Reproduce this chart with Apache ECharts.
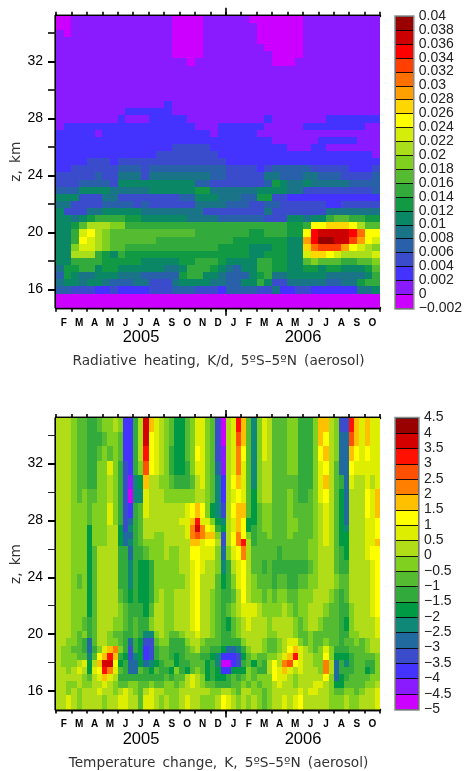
<!DOCTYPE html>
<html><head><meta charset="utf-8">
<script src="https://cdn.jsdelivr.net/npm/echarts@6/dist/echarts.min.js"></script>
<style>html,body{margin:0;padding:0;background:#fff}#c{width:465px;height:771px}</style></head>
<body><div id="c"></div>
<script>
const monthLabels=['F','M','A','M','J','J','A','S','O','N','D','J','F','M','A','M','J','J','A','S','O'];
const zMajorTicks=[16,20,24,28,32];
const zMinorTicks=[18,22,26,30,34];
const heatingEdges=[-0.002,0,0.002,0.004,0.006,0.008,0.01,0.012,0.014,0.016,0.018,0.02,0.022,0.024,0.026,0.028,0.03,0.032,0.034,0.036,0.038,0.04];
const heatingColors=['#cc00ff','#8a1aff','#4433ff','#3a4ccc','#2860aa','#1a7488','#0a8866','#119944','#33aa3c','#55bb30','#80d020','#aadd1a','#d4ee0a','#ffff00','#ffd700','#ffa000','#ff7000','#ff4000','#ff0000','#cc0000','#990000'];
const temperatureEdges=[-5,-4.5,-4,-3.5,-3,-2.5,-2,-1.5,-1,-0.5,0,0.5,1,1.5,2,2.5,3,3.5,4,4.5];
const temperatureColors=['#cc00ff','#8a1aff','#4433ff','#3a4ccc','#206aa0','#108878','#009944','#33aa3c','#55bb30','#80d020','#b0dd18','#ddee00','#ffff00','#ffc000','#ff8000','#ff5000','#ff1000','#d40000','#990000'];
// radiative heating, 10^-3 K/d; half-month columns, rows from the top down
const heatingZEdges=[35.2,34.7,34.2,33.7,33.2,32.7,32.2,31.7,31.2,30.7,30.2,29.7,29.2,28.7,28.2,27.7,27.2,26.7,26.2,25.7,25.2,24.7,24.2,23.7,23.2,22.7,22.2,21.7,21.2,20.7,20.2,19.7,19.2,18.7,18.2,17.7,17.2,16.7,16.2,15.7,15.2,14.7];
const heatingRows=[
[-1,-1, 1,1, 1,1, 1,1, 1,1, 1,1, 1,1, 1,-1, -1,-1, -1,1, 1,1, 1,1, 1,-1, -1,-1, -1,-1, -1,-1, 1,1, 1,1, 1,1, 1,1, 1,1],
[-1,-1, 1,1, 1,1, 1,1, 1,1, 1,1, 1,1, 1,-1, -1,-1, -1,1, 1,1, 1,1, 1,1, -1,-1, -1,-1, -1,-1, 1,1, 1,1, 1,1, 1,1, 1,1],
[1,-1, 1,1, 1,1, 1,1, 1,1, 1,1, 1,1, 1,-1, -1,-1, -1,1, 1,1, 1,1, 1,1, -1,-1, -1,-1, -1,-1, 1,1, 1,1, 1,1, 1,1, 1,1],
[1,1, 1,1, 1,1, 1,1, 1,1, 1,1, 1,1, 1,-1, -1,-1, -1,1, 1,1, 1,1, 1,1, -1,-1, -1,-1, -1,-1, 1,1, 1,1, 1,1, 1,1, 1,1],
[1,1, 1,1, 1,1, 1,1, 1,1, 1,1, 1,1, 1,-1, -1,-1, -1,1, 1,1, 1,1, 1,1, 1,-1, -1,-1, -1,-1, 1,1, 1,1, 1,1, 1,1, 1,1],
[1,1, 1,1, 1,1, 1,1, 1,1, 1,1, 1,1, 1,-1, -1,-1, -1,1, 1,1, 1,1, 1,1, 1,1, -1,-1, -1,-1, 1,1, 1,1, 1,1, 1,1, 1,1],
[1,1, 1,1, 1,1, 1,1, 1,1, 1,1, 1,1, 1,1, 1,-1, 1,1, 1,1, 1,1, 1,1, 1,1, -1,-1, -1,1, 1,1, 1,1, 1,1, 1,1, 1,1],
[1,1, 1,1, 1,1, 1,1, 1,1, 1,1, 1,1, 1,1, 1,1, 1,1, 1,1, 1,1, 1,1, 1,1, 1,1, 1,1, 1,1, 1,1, 1,1, 1,1, 1,1],
[1,1, 1,1, 1,1, 1,1, 1,1, 1,1, 1,1, 1,1, 1,1, 1,1, 1,1, 1,1, 1,1, 1,1, 1,1, 1,1, 1,1, 1,1, 1,1, 1,1, 1,1],
[1,1, 1,1, 1,1, 1,1, 1,1, 1,1, 1,1, 1,1, 1,1, 1,1, 1,1, 1,1, 1,1, 1,1, 1,1, 1,1, 1,1, 1,1, 1,1, 1,1, 1,1],
[1,1, 1,1, 1,1, 1,1, 1,1, 1,1, 1,1, 1,1, 1,1, 1,1, 1,1, 1,1, 1,1, 1,1, 1,1, 1,1, 1,1, 1,1, 1,1, 1,1, 1,1],
[1,1, 1,1, 1,1, 1,1, 1,1, 1,1, 1,1, 1,1, 1,1, 1,1, 1,1, 1,1, 1,1, 1,1, 1,1, 1,1, 1,1, 1,1, 1,1, 1,1, 1,1],
[1,1, 1,1, 1,1, 1,1, 1,1, 1,1, 1,1, 3,1, 1,1, 1,1, 1,1, 1,1, 1,1, 1,1, 1,1, 1,1, 1,1, 1,1, 1,1, 1,1, 1,1],
[1,1, 1,1, 1,1, 1,1, 1,3, 3,3, 3,3, 3,1, 1,1, 1,1, 1,1, 1,1, 1,1, 1,1, 1,1, 1,1, 1,1, 1,1, 1,1, 1,1, 1,1],
[1,1, 1,1, 1,1, 1,1, 3,1, 1,1, 3,3, 3,3, 3,1, 1,1, 1,1, 1,1, 1,1, 1,3, 1,1, 1,1, 1,1, 1,3, 3,3, 3,3, 3,3, 3,3],
[1,3, 3,3, 3,3, 3,3, 3,3, 3,3, 3,3, 3,3, 3,3, 1,1, 1,3, 3,3, 3,3, 3,1, 1,1, 1,1, 3,3, 3,3, 3,3, 3,3, 1,1],
[3,3, 3,3, 3,1, 3,3, 3,3, 3,3, 3,3, 3,3, 3,3, 3,3, 1,3, 3,3, 3,3, 1,1, 1,1, 1,1, 1,1, 1,1, 1,1, 1,1, 1,1],
[3,3, 3,3, 3,3, 3,3, 3,3, 3,3, 3,3, 3,3, 3,3, 3,3, 3,3, 3,3, 3,3, 3,3, 1,1, 1,1, 1,1, 3,3, 3,3, 3,1, 1,1],
[3,3, 3,3, 3,3, 3,3, 3,3, 3,3, 3,3, 3,5, 5,5, 5,5, 3,3, 3,3, 3,3, 3,3, 3,3, 1,1, 1,3, 3,1, 1,1, 1,1, 1,1],
[3,3, 3,3, 3,3, 3,3, 3,3, 3,3, 3,5, 5,5, 5,5, 5,5, 5,3, 3,3, 3,3, 3,3, 3,3, 3,3, 3,3, 3,3, 3,3, 3,3, 3,1],
[3,3, 3,3, 5,5, 5,3, 5,5, 5,5, 5,5, 5,5, 5,5, 5,5, 5,5, 3,3, 3,3, 3,3, 3,3, 3,3, 3,3, 3,3, 3,3, 3,3, 3,3],
[3,3, 5,5, 5,5, 5,5, 7,7, 7,5, 7,7, 7,7, 7,7, 7,7, 7,7, 5,5, 5,5, 3,5, 7,7, 7,7, 7,5, 5,5, 5,5, 3,3, 3,5],
[5,5, 5,5, 5,7, 5,5, 9,9, 9,5, 9,9, 9,9, 9,9, 9,9, 7,7, 5,5, 5,5, 5,9, 9,7, 7,7, 9,9, 7,7, 7,5, 5,5, 5,7],
[5,5, 5,7, 7,7, 7,5, 11,11, 11,11, 11,11, 11,11, 11,11, 7,7, 5,5, 5,5, 5,5, 5,7, 13,11, 9,9, 11,9, 9,9, 9,9, 7,7, 7,7],
[7,7, 7,11, 11,11, 11,9, 9,9, 9,9, 11,11, 11,11, 11,11, 13,13, 9,9, 9,9, 9,9, 11,11, 11,11, 9,9, 5,5, 5,5, 5,5, 5,5, 5,7],
[11,11, 11,5, 5,5, 9,9, 5,5, 5,5, 5,5, 5,5, 7,7, 11,11, 11,9, 9,9, 7,7, 13,13, 5,5, 3,3, 3,3, 3,3, 3,3, 3,3, 3,3],
[9,9, 5,5, 5,5, 7,7, 7,7, 5,7, 5,5, 5,5, 5,5, 9,9, 9,9, 7,7, 7,5, 5,7, 7,5, 5,5, 5,5, 5,3, 3,5, 5,5, 5,5],
[11,5, 5,5, 9,9, 11,11, 11,11, 11,9, 9,9, 9,9, 9,9, 9,5, 5,5, 5,5, 5,5, 5,9, 5,5, 5,5, 5,5, 5,9, 9,9, 9,9, 9,9],
[11,11, 9,11, 13,15, 15,15, 15,13, 13,11, 11,11, 11,11, 11,9, 9,9, 9,7, 7,7, 7,7, 7,5, 5,5, 11,11, 9,11, 11,15, 17,17, 15,15, 13,13],
[11,11, 13,17, 21,21, 21,19, 19,15, 15,15, 15,15, 15,15, 15,15, 15,15, 15,15, 15,15, 15,15, 15,15, 15,15, 13,13, 15,25, 25,27, 27,27, 25,21, 17,17],
[11,11, 15,23, 25,21, 19,17, 17,17, 17,17, 17,17, 17,17, 17,17, 15,15, 15,15, 15,15, 15,13, 13,15, 15,15, 13,13, 25,35, 37,37, 37,37, 35,31, 25,25],
[11,11, 15,25, 23,21, 19,17, 17,17, 17,17, 17,15, 15,15, 15,15, 15,15, 15,15, 15,13, 13,13, 13,13, 13,13, 11,11, 29,35, 39,39, 37,37, 33,29, 25,23],
[11,11, 19,23, 23,21, 19,17, 17,15, 15,15, 15,15, 15,15, 15,15, 15,15, 15,13, 13,13, 13,11, 11,11, 13,13, 11,11, 27,31, 33,33, 33,29, 25,23, 21,19],
[11,11, 21,21, 21,15, 13,11, 15,13, 13,13, 13,13, 13,13, 13,13, 13,13, 13,13, 13,13, 13,11, 11,13, 13,13, 11,11, 23,27, 27,25, 23,21, 21,21, 21,23],
[11,11, 15,15, 15,15, 13,13, 13,13, 13,11, 11,11, 11,11, 13,13, 15,15, 15,13, 11,11, 11,11, 15,15, 13,13, 11,11, 17,19, 17,17, 17,15, 15,17, 17,19],
[9,13, 13,15, 15,11, 13,13, 11,11, 11,11, 11,11, 9,9, 11,15, 15,15, 13,11, 9,7, 11,11, 15,15, 13,13, 11,11, 13,13, 11,13, 13,11, 11,11, 13,17],
[7,13, 11,9, 9,11, 11,11, 9,9, 9,7, 7,7, 7,7, 13,15, 15,11, 11,9, 7,7, 7,11, 13,15, 9,9, 11,11, 11,11, 11,9, 9,9, 9,9, 11,15],
[9,11, 11,9, 11,11, 9,7, 7,7, 9,9, 5,5, 5,9, 11,11, 11,11, 9,9, 7,7, 11,11, 15,11, 5,5, 9,9, 9,9, 9,7, 7,9, 9,13, 15,15],
[7,7, 5,5, 5,3, 3,5, 3,3, 3,3, 5,5, 5,7, 7,7, 5,5, 5,3, 7,7, 7,7, 5,5, 9,3, 3,5, 5,3, 3,3, 3,3, 3,9, 9,11],
[-1,-1, -1,-1, -1,-1, -1,-1, -1,-1, -1,-1, -1,-1, -1,-1, -1,-1, -1,-1, -1,-1, -1,-1, -1,-1, -1,-1, -1,-1, -1,-1, -1,-1, -1,-1, -1,-1, -1,-1, -1,-1],
[-1,-1, -1,-1, -1,-1, -1,-1, -1,-1, -1,-1, -1,-1, -1,-1, -1,-1, -1,-1, -1,-1, -1,-1, -1,-1, -1,-1, -1,-1, -1,-1, -1,-1, -1,-1, -1,-1, -1,-1, -1,-1]
];
// temperature change, K; three columns per month, rows from the top down
const temperatureZEdges=[35.2,34.2,33.2,32.2,31.2,30.2,29.2,28.2,27.7,27.2,26.7,26.2,25.2,24.2,23.2,22.2,21.2,20.2,19.7,19.2,18.7,18.2,17.7,17.2,16.7,16.2,15.7,14.7];
const temperatureRows=[
[.2,.2,.2, -.2,-.8,-.8, -1.2,-1.2,-.8, -.2,-.2,.2, -.2,-3.8,-3.8, -1.2,.2,3.8, 1.8,.8,.2, -.2,-.8,-1.8, -1.8,-.8,-.2, .8,.8,-.2, -.8,-3.2,-4.8, .2,.8,3.2, 1.8,-.8,-2.2, -.2,.8,.2, -.8,-.8,-.8, -.2,-.2,-1.2, -1.2,-1.2,-.2, 1.8,1.8,.2, -.2,-3.2,-3.2, 3.2,1.8,.8, 1.8,.8,.8],
[.2,.2,.2, -.2,-.8,-.8, -1.2,-1.2,-1.2, -.8,-.2,-.2, -.8,-3.8,-3.8, -1.2,.2,3.8, 1.2,.8,.2, -.2,-.8,-1.8, -1.8,-.8,-.2, .8,.8,-.2, -.8,-3.2,-4.8, .2,.8,2.8, 1.8,-.8,-2.2, -.2,.8,.2, -.8,-.8,-.8, -.2,-.2,-1.2, -1.2,-1.2,-.2, 1.8,1.2,.2, -.2,-2.8,-2.8, 2.8,1.8,.8, 1.8,.8,.8],
[.2,.2,.2, -.2,-.8,-.8, -1.2,-1.2,-.8, -.2,-.8,-.2, -.8,-3.8,-3.8, -1.2,.2,3.2, 1.2,.8,.2, -.2,-1.2,-1.8, -1.8,-.8,-.2, 1.2,.8,-.2, -.8,-3.2,-4.2, .2,.8,2.2, 1.2,-.8,-2.2, -.2,.8,.2, -.8,-.8,-.8, -.2,-.2,-1.2, -1.2,-1.2,-.2, 1.2,1.8,.2, -.2,-2.8,-2.8, 1.8,1.2,.8, 1.2,.8,.8],
[.2,.2,.2, -.2,-.8,-.8, -1.2,-1.2,-.2, -.2,.8,-.2, -1.2,-3.2,-3.8, -1.2,-.2,2.8, 1.2,.8,.2, -.2,-1.2,-1.8, -1.8,-1.2,-.2, .8,.8,-.2, -.8,-2.8,-4.2, .2,.8,2.2, .8,-.8,-2.2, -.2,.2,.2, -.8,-.8,-.8, -.2,-.2,-1.2, -1.2,-1.2,-.2, .8,1.2,.2, -.8,-2.8,-2.8, 1.2,.8,.8, .8,.8,.8],
[.2,.2,.2, -.2,-.8,-.8, -1.2,-1.2,-.2, -.2,.2,-.2, -1.2,-3.2,-4.2, -2.2,-1.8,1.8, .2,.2,-.2, -.2,-.8,-1.2, -1.2,-1.2,-.8, .2,.8,-.2, -.8,-2.2,-3.8, .2,1.2,1.8, .8,-.8,-2.2, -.2,.2,.2, -.8,-.8,-.8, -.8,-.8,-1.2, -1.2,-1.2,-.2, .8,1.8,.2, -.8,-1.2,-2.8, .8,.2,.2, .8,.2,.8],
[.2,.2,.2, -.2,-.8,-.2, -.8,-.8,-.2, -.2,.2,-.2, -1.2,-3.2,-4.8, -2.2,-2.2,.8, .2,.2,.2, -.2,-.2,-.2, -.2,-.2,-.2, .2,.2,-.2, -.8,-2.2,-3.8, .2,.8,1.2, .8,-.8,-1.8, -.2,.2,.2, -.8,-.8,-.8, -.2,-.8,-1.2, -1.2,-.8,-.2, .8,1.2,.2, -.8,-1.8,-2.8, .2,.2,.2, 1.2,.8,1.8],
[.2,.2,.2, -.2,-.2,-.2, -.8,-.2,-.2, -.2,.8,-.2, -1.2,-3.2,-3.8, -1.2,-.8,.8, .2,.2,.2, .2,.2,.2, .2,.8,1.2, 1.8,1.2,-.2, -1.8,-2.2,-3.2, .2,1.2,1.8, 1.8,-.8,-1.8, -.8,-.2,-.2, -.8,-.8,-.8, -.2,-.8,-.8, -.8,-.8,-.2, .2,.8,.2, -.8,-1.8,-2.8, .2,.2,.2, 1.2,.8,1.8],
[.2,.2,.2, -.2,-.2,-.2, -.8,-.2,-.2, -.2,.8,-.2, -1.2,-3.2,-2.8, -1.2,-.8,.2, .2,.2,.2, .2,.2,.2, .8,.8,1.8, 3.2,.8,.8, -.2,-1.8,-2.2, .2,.8,1.8, 1.2,-1.8,-1.8, -.8,-.2,-.2, -.8,-.8,-.8, -.2,-.2,-.8, -.8,-.8,-.2, .2,.8,.2, -.8,-1.8,-2.8, .2,.2,.2, .8,.8,1.2],
[.2,.2,.2, -.2,-.2,-.2, -1.8,-.2,-.2, -.2,.2,.2, -1.8,-3.2,-2.2, -1.2,-.8,.2, .2,.2,.2, .2,.2,.2, .2,.8,2.2, 3.8,2.2,1.2, .8,-1.2,-1.8, .2,.8,1.8, 1.2,-1.8,-1.2, -.8,-.2,-.2, -.8,-.8,-.8, -.2,-.2,-.8, -.8,-.8,-.2, .2,.8,.2, -.8,-1.8,-2.2, .2,.2,.2, .8,.8,1.2],
[.2,.2,.2, -.2,-.2,-.2, -1.8,-.2,-.2, -.2,.2,.2, -1.8,-2.8,-2.8, -1.2,-.8,.2, .2,-.2,-.2, .2,.2,.2, .2,.8,2.2, 2.8,2.2,1.8, 1.8,-.2,-3.2, .2,1.2,2.2, 1.2,-.2,-1.2, -.8,-.8,-.2, -.8,-.8,-.8, -.2,-.8,-.8, -.8,-.8,-.2, .2,.8,.2, -.8,-1.8,-1.8, .2,.2,.2, .8,.8,1.2],
[.2,.2,.2, -.2,-.2,-.2, -1.8,-.2,-.2, -.2,.2,.2, -1.8,-2.8,-2.2, -1.2,-.8,-.2, -.2,-.2,-.2, .2,.2,.2, .2,.2,1.8, 1.8,.8,1.2, 1.2,.2,-3.2, .2,1.2,2.2, 3.2,.2,-1.2, -.8,-.8,-.8, -.8,-.8,-.8, -.8,-.8,-.8, -.8,-.2,-.2, .2,.8,.2, -.8,-1.8,-1.8, .2,.2,.2, .8,.8,1.8],
[.2,.2,.2, -.2,-.2,-.2, -1.8,-.8,.2, .2,.2,.2, -1.2,-1.2,-2.8, -1.2,-1.2,-.8, -.2,-.2,-.2, .2,-.2,-.2, .2,.2,1.2, 1.2,.8,.8, .8,-.2,-2.8, -.2,.8,1.2, 2.2,.2,-.8, -.8,-.8,-.8, -.8,-1.2,-.8, -.8,-.8,-.8, -.8,-.2,-.2, .2,.2,.2, -.8,-1.2,-1.8, .2,.2,.2, .8,1.2,1.2],
[.2,.2,.2, -.2,-.2,-.2, -1.8,-.8,.2, .2,.2,.2, -1.2,-1.2,-2.2, -1.2,-1.8,-1.8, -1.2,-.2,-.2, -.2,-.2,-.2, .2,.2,.8, 1.2,.8,.2, .2,-.2,-2.2, -1.2,.2,.8, 1.2,.2,-.8, -.8,-1.2,-.8, -1.2,-1.2,-1.2, -1.2,-1.2,-1.2, -1.2,-.8,-.2, .2,.2,.2, -.8,-1.2,-1.2, .2,.2,.2, .2,.8,1.2],
[.2,.2,.2, -.2,-.8,-.2, -1.8,-.8,.2, .2,.2,.2, -1.2,-1.2,-2.2, -1.2,-1.8,-1.8, -1.2,-.2,-.2, -.2,-.2,-.2, -.2,.2,.8, 1.2,.2,.2, .2,-.8,-1.8, -1.2,-.2,.8, 1.2,.2,-.2, -.8,-.8,-.8, -1.2,-.8,-.8, -1.2,-1.2,-.8, -.8,-.2,-.2, .2,.2,.2, -.2,-.8,-.8, .2,.2,.2, .2,.8,1.2],
[.2,.2,.2, -.2,-.2,-.2, -1.8,-.8,.2, .2,.2,.2, -.8,-1.2,-1.8, -1.2,-1.8,-1.8, -1.2,-.2,.2, -.2,-.2,.2, .2,.2,.8, 1.2,.2,.2, -.2,-.8,-1.2, -1.2,-.8,.2, 1.2,.2,-.2, -.2,-.8,-.2, -.8,-.2,-.2, -.8,-.8,-.2, -.2,-.2,.2, .2,.2,-.2, -.8,-1.2,-.8, .2,.2,.2, .2,.8,1.2],
[.2,.2,.2, -.2,-.2,-.2, -1.8,-.8,.2, .2,.2,.2, -.2,-.8,-1.2, -1.2,-1.2,-1.8, -.8,.2,.2, -.2,-.2,.2, .2,.2,.8, 1.2,.2,.2, -.2,-.8,-1.2, -.8,-.2,.2, .8,.8,.8, .2,-.2,-.2, -.2,-.2,.2, -.2,-.8,-.2, -.2,.2,.2, .2,-.2,-.8, -.8,-1.2,-1.2, -.2,.2,.2, .2,.8,1.2],
[.2,.2,.2, -.2,-.2,-.8, -1.2,-.8,.2, .2,.2,-.2, -.2,-.8,-1.2, -.8,-1.2,-1.2, -.2,.2,.2, -.2,-.2,.2, .2,.2,.8, 1.2,.2,.2, -.2,-.8,-1.2, -1.8,-.8,-.2, .2,.8,.2, .2,.2,-.2, .2,.2,.2, .2,-.2,-.8, -.2,.2,.2, -.2,-.8,-.8, -.8,-1.2,-1.8, -.2,.2,.2, .2,.2,.8],
[.2,.2,.2, -.2,-.8,-.2, -1.2,-.8,.2, .2,-.2,-.8, -.8,-1.2,-1.2, -.8,-1.2,-2.2, -2.2,-.2,.2, -.2,-.8,-.8, -.2,.2,.2, .8,.2,.2, -.2,-.8,-1.2, -1.2,-.8,-.2, .2,.2,.2, .2,.2,-.2, -.2,.2,.2, .2,-.2,-.8, -.8,-.2,-.8, -.8,-.8,-.8, -.8,-1.2,-1.2, -.2,-.2,.2, .2,.2,.8],
[.2,.2,-.2, -.2,-.8,-1.2, -2.8,-.8,.2, .2,-.2,-.2, -.8,-1.2,-2.8, -1.2,-1.8,-3.2, -3.2,-.8,-.2, -.2,-1.2,-1.2, -1.2,-.2,.2, .2,-.2,-.8, -.8,-.8,-1.2, -1.2,-1.2,-1.2, -.2,.2,.2, .2,-.2,-.8, -.8,-.2,.2, .8,.8,-.2, -.8,-.2,-.8, -.8,-.2,-.8, -.8,-1.2,-.8, -.8,-.2,-.8, -.2,.2,.2],
[.2,-.2,-.2, -.8,-.8,-1.2, -2.8,-1.2,-.2, .8,1.8,2.2, -.2,-1.2,-3.2, -1.2,-1.8,-3.8, -3.2,-1.2,-.8, -.8,-1.2,-1.2, -1.2,-.8,-.2, .2,-.8,-.8, -1.2,-1.2,-1.8, -2.8,-2.8,-2.2, -1.2,-.2,.2, .2,-.2,-.8, -.8,-.2,.2, 1.2,1.8,.8, .2,-.2,-.8, -.2,.8,-.2, -1.2,-1.2,-1.2, -.8,-.8,-.8, -.2,.2,.2],
[.2,-.2,-.2, -.2,-.8,-.8, -2.2,-.8,1.2, 1.8,3.2,1.8, -1.2,-1.8,-3.2, -2.2,-1.8,-3.8, -3.2,-1.2,-.8, -.8,-1.2,-1.8, -1.2,-.8,-.8, -.8,-1.2,-1.2, -1.8,-2.2,-3.8, -3.8,-3.8,-3.2, -1.8,-.8,-.2, -.8,-.8,-.2, -.2,.2,.8, 1.8,3.2,.8, .2,.2,-.2, -.2,1.2,-.2, -1.8,-1.8,-1.8, -1.2,-.8,-.8, -.8,-.8,-.2],
[.2,-.2,-.2, -.2,.2,.8, -1.8,.2,1.8, 3.8,3.8,1.2, -1.8,-1.2,-2.8, -2.8,-1.8,-2.8, -2.2,-1.8,-1.2, -.8,-.8,-1.8, -1.2,-1.2,-.8, -.8,-.8,-1.8, -1.2,-2.2,-4.8, -4.8,-3.8,-3.2, -1.2,-.8,-1.8, -.8,-1.2,.2, 1.2,.2,2.2, 2.8,1.2,.8, .2,.2,-.2, -.2,2.2,.2, -2.8,-1.2,-2.2, -1.2,-.8,-.8, -1.2,-1.2,-.2],
[.2,.2,-.2, .2,.8,.2, -1.8,.8,1.2, 3.2,2.2,.8, -.8,-1.2,-2.8, -2.8,-.8,-1.2, -1.8,-.8,-1.2, -1.2,-1.8,-.2, -1.2,-1.8,-.8, -.2,-.8,-1.8, -1.2,-1.8,-3.8, -3.8,-1.8,-1.8, -1.8,-.2,-.8, -1.2,-1.2,.2, 1.2,.8,1.8, .8,.2,.8, .2,.2,.2, -.2,2.2,.2, -2.8,-1.2,-1.2, -1.2,-.8,-.8, -1.8,-1.2,-.2],
[.2,.2,.2, .2,.2,-.2, -.8,.2,.8, 1.8,.8,.2, -1.2,-1.2,-1.2, -1.2,-1.2,-1.2, -1.2,-1.2,-1.2, -.8,-1.2,-.8, -.8,.2,.8, .2,-.2,-1.8, -1.2,-1.8,-1.8, -1.2,-.8,-1.2, -.8,-.2,-.8, -.2,-.2,-.2, 1.2,.8,.8, .2,-.2,.2, .2,.2,.2, .2,1.2,-.2, -2.8,-1.8,-1.2, -.8,-.8,-.8, -.8,-.2,-.2],
[.2,.2,-.2, -.2,.2,-.2, -.2,.2,.2, .8,.2,-.2, -.8,-.8,-.2, -.2,-.8,-.8, -.2,-.8,-.8, -.2,-.2,-.8, -.2,.2,.8, .2,-.2,-.8, -.8,-1.2,-1.2, -1.2,-.8,-.8, -.2,-.8,-.2, -.8,-.2,-.2, .2,.8,.2, .2,-.2,.2, .2,.2,.8, .8,.2,-.2, -1.8,-1.8,-.8, -.8,-.8,-.8, -.2,-.2,.2],
[.2,.2,-.2, .2,-.2,.2, .2,.2,.8, .2,.2,-.2, .2,.8,.2, -.2,-.8,.2, .8,.2,.2, -.2,-.2,-.2, .2,.2,.2, .2,.2,.2, -.2,-.2,.2, .2,-.2,-.8, .2,.2,-.2, -.2,-.8,-.2, .2,.2,.2, .2,.2,.8, .2,.8,.8, .2,.2,-.2, -.8,-.8,-.2, -.2,-.8,-.2, .2,.2,.8],
[.2,.2,.8, .2,-.2,.2, .2,.2,.2, -.2,.2,.2, .8,.8,.2, .2,-.8,.8, .8,.2,-.2, .2,-.2,-.2, .2,.8,.2, .2,-.2,-.2, -.2,.2,1.2, .8,.2,-.2, .2,-.2,.2, -.2,-.8,-.2, .2,.2,.8, .2,.8,1.2, .2,.2,.2, .2,.2,-.2, -.2,-.2,.2, -.2,-.2,.2, .2,.2,.8]
];
const panels=[
 {top:15.7,height:292.1,title:'Radiative\u2009 heating,\u2009 K/d,\u2009 5ºS–5ºN\u2009 (aerosol)',rows:heatingRows,zEdges:heatingZEdges,scale:0.001,edges:heatingEdges,colors:heatingColors,minor:1.8,barTop:16,barHeight:292},
 {top:418,height:291.5,title:'Temperature\u2009 change,\u2009 K,\u2009 5ºS–5ºN\u2009 (aerosol)',rows:temperatureRows,zEdges:temperatureZEdges,scale:1,edges:temperatureEdges,colors:temperatureColors,minor:1,barTop:417.5,barHeight:291.5}
];
const LEFT=56,WIDTH=324,BARLEFT=395,BARWIDTH=23;
const sans='"Liberation Sans"';
function colorOf(v,edges,colors){for(let i=0;i<colors.length;i++){if(v>=edges[i]&&v<edges[i+1])return colors[i];}return colors[colors.length-1];}
function cellItem(p){return function(params,api){
  const a=api.coord([api.value(0),api.value(2)]),b=api.coord([api.value(1),api.value(3)]);
  const x=Math.round(a[0]),x2=Math.round(b[0]),y=Math.round(b[1]),y2=Math.round(a[1]);
  return {type:'rect',shape:{x,y,width:x2-x,height:y2-y},style:{fill:colorOf(api.value(4),p.edges,p.colors)}};
};}
const grid=[],xAxis=[],yAxis=[],series=[],graphic=[];
panels.forEach((p,i)=>{
  const gi=grid.length;
  grid.push({left:LEFT,top:p.top,width:WIDTH,height:p.height});
  const monthTicks=monthLabels.map((m,k)=>k).concat([21]);
  const xBase={type:'value',min:0,max:21,gridIndex:gi,splitLine:{show:false},axisLine:{show:true,lineStyle:{color:'#000',width:2.4}}};
  const xi=xAxis.length;
  xAxis.push(Object.assign({},xBase,{position:'bottom',axisTick:{show:true,length:4,customValues:monthTicks,lineStyle:{color:'#000',width:1.6}},
    axisLabel:{show:true,customValues:monthLabels.map((m,k)=>k+0.5),margin:10,fontFamily:sans,fontSize:10,fontWeight:'bold',color:'#000',formatter:v=>monthLabels[Math.floor(v)]}}));
  xAxis.push(Object.assign({},xBase,{position:'top',axisLabel:{show:false},axisTick:{show:true,length:4,customValues:monthTicks,lineStyle:{color:'#000',width:1.6}}}));
  xAxis.push(Object.assign({},xBase,{position:'bottom',axisLabel:{show:false},axisTick:{show:true,length:8,customValues:[11],lineStyle:{color:'#000',width:1.6}}}));
  xAxis.push(Object.assign({},xBase,{position:'top',axisLabel:{show:false},axisTick:{show:true,length:8,customValues:[11],lineStyle:{color:'#000',width:1.6}}}));
  const zBase={type:'value',min:14.7,max:35.2,gridIndex:gi,splitLine:{show:false},axisLine:{show:true,lineStyle:{color:'#000',width:2.4}}};
  const yi=yAxis.length;
  yAxis.push(Object.assign({},zBase,{position:'left',axisTick:{show:true,length:8,customValues:zMajorTicks,lineStyle:{color:'#000',width:2}},
    axisLabel:{show:true,customValues:zMajorTicks,margin:13,fontFamily:sans,fontSize:14,color:'#000'}}));
  yAxis.push(Object.assign({},zBase,{position:'left',axisLabel:{show:false},axisTick:{show:true,length:8,customValues:zMinorTicks,lineStyle:{color:'#222',width:p.minor}}}));
  yAxis.push(Object.assign({},zBase,{position:'right',axisLabel:{show:false},axisTick:{show:true,length:8,customValues:zMajorTicks,lineStyle:{color:'#000',width:2}}}));
  yAxis.push(Object.assign({},zBase,{position:'right',axisLabel:{show:false},axisTick:{show:true,length:8,customValues:zMinorTicks,lineStyle:{color:'#222',width:p.minor}}}));
  const cells=[];
  const perMonth=p.rows[0].length/21;
  p.rows.forEach((row,r)=>row.forEach((v,c)=>cells.push([c/perMonth,(c+1)/perMonth,p.zEdges[r+1],p.zEdges[r],v*p.scale])));
  series.push({type:'custom',xAxisIndex:xi,yAxisIndex:yi,animation:false,silent:true,clip:true,z:1,renderItem:cellItem(p),encode:{x:[0,1],y:[2,3]},data:cells});
  // colour bar
  const bi=grid.length;
  grid.push({left:BARLEFT,top:p.barTop,width:BARWIDTH,height:p.barHeight});
  const bx=xAxis.length,by=yAxis.length,e=p.edges;
  xAxis.push({type:'value',gridIndex:bi,min:0,max:1,show:false});
  yAxis.push({type:'value',gridIndex:bi,min:e[0],max:e[e.length-1],position:'right',splitLine:{show:false},axisLine:{show:false},axisTick:{show:false},
    axisLabel:{show:true,customValues:e,margin:6,fontFamily:sans,fontSize:14,color:'#222',showMinLabel:true,showMaxLabel:true,formatter:v=>{const s=String(+v.toFixed(3));return s.replace('-','\u2212');}}});
  const bands=p.colors.map((col,k)=>[0,1,e[k],e[k+1],(e[k]+e[k+1])/2]);
  series.push({type:'custom',xAxisIndex:bx,yAxisIndex:by,animation:false,silent:true,clip:false,z:2,encode:{x:[0,1],y:[2,3]},data:bands,
    renderItem:function(params,api){
      const a=api.coord([api.value(0),api.value(2)]),b=api.coord([api.value(1),api.value(3)]);
      const x=Math.round(a[0]),x2=Math.round(b[0]),y=Math.round(b[1]),y2=Math.round(a[1]);
      return {type:'rect',shape:{x:x+.5,y:y+.5,width:x2-x,height:y2-y},style:{fill:colorOf(api.value(4),p.edges,p.colors),stroke:'rgba(0,0,0,0.8)',lineWidth:1}};
    }});
  series.push({type:'custom',xAxisIndex:bx,yAxisIndex:by,animation:false,silent:true,clip:false,z:3,encode:{x:[0,1],y:[2,3]},data:[[0,1,e[0],e[e.length-1],0]],
    renderItem:function(params,api){
      const a=api.coord([api.value(0),api.value(2)]),b=api.coord([api.value(1),api.value(3)]);
      return {type:'rect',shape:{x:a[0],y:b[1],width:b[0]-a[0]+1,height:a[1]-b[1]+1},style:{fill:'none',stroke:'#8c8c8c',lineWidth:1.5}};
    }});
  // text
  const yBase=p.top+p.height;
  graphic.push({type:'text',x:16,y:p.top+146,rotation:Math.PI/2,style:{text:'z,\u2009 km',fontFamily:'"DejaVu Sans"',fontSize:13.7,fill:'#333',align:'center',verticalAlign:'middle'}});
  graphic.push({type:'text',x:141,y:yBase+29.5,style:{text:'2005',fontFamily:sans,fontSize:16.5,fill:'#000',align:'center',verticalAlign:'middle'}});
  graphic.push({type:'text',x:303,y:yBase+29.5,style:{text:'2006',fontFamily:sans,fontSize:16.5,fill:'#000',align:'center',verticalAlign:'middle'}});
  graphic.push({type:'text',x:218.5,y:yBase+53.5,style:{text:p.title,fontFamily:'"DejaVu Sans"',fontSize:13.7,fill:'#333',align:'center',verticalAlign:'middle'}});
});
const chart=echarts.init(document.getElementById('c'),null,{renderer:'canvas'});
chart.setOption({animation:false,backgroundColor:'#fff',grid,xAxis,yAxis,series,graphic});
</script></body></html>
